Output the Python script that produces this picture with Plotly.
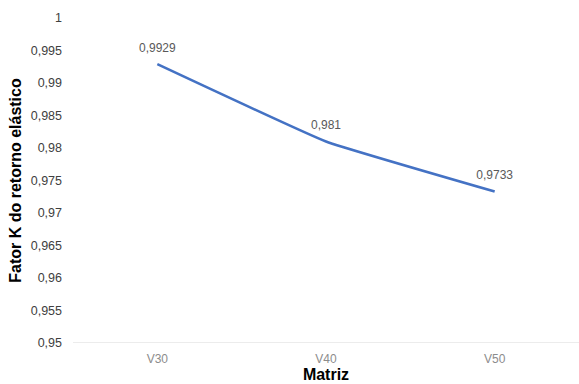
import plotly.graph_objects as go

categories = ["V30", "V40", "V50"]
values = [0.9929, 0.981, 0.9733]
value_labels = ["0,9929", "0,981", "0,9733"]
y_tick_vals = [0.95, 0.955, 0.96, 0.965, 0.97, 0.975, 0.98, 0.985, 0.99, 0.995, 1.0]
y_tick_text = ["0,95", "0,955", "0,96", "0,965", "0,97", "0,975", "0,98", "0,985", "0,99", "0,995", "1"]

fig = go.Figure()
fig.add_trace(go.Scatter(
    x=categories, y=values, mode="lines+markers+text",
    text=value_labels, textposition="top center",
    textfont=dict(family="Liberation Sans, Arial", size=12, color="#595959"),
    line=dict(color="#4472C4", width=2.6, shape="spline", smoothing=0.3),
    marker=dict(size=13, opacity=0),
    cliponaxis=False, showlegend=False, hoverinfo="skip",
))

fig.update_layout(
    width=579, height=384,
    margin=dict(l=73, r=0, t=18, b=41),
    paper_bgcolor="white", plot_bgcolor="white",
    font=dict(family="Liberation Sans, Arial", size=12, color="#595959"),
    xaxis=dict(
        type="category", range=[-0.5, 2.5],
        showgrid=False, showline=False, zeroline=False,
        ticks="", ticklabelstandoff=7, tickfont=dict(size=12, color="#8C8C8C"),
        title=dict(text="<b>Matriz</b>", font=dict(size=16, color="#000000"), standoff=2),
    ),
    yaxis=dict(
        range=[0.95, 1.0], tickvals=y_tick_vals, ticktext=y_tick_text,
        showgrid=False, showline=False, zeroline=False,
        ticks="", ticklabelstandoff=10,
        tickfont=dict(size=12.5, color="#404040"),
        title=dict(text="<b>Fator K do retorno elástico</b>", font=dict(size=16, color="#000000"), standoff=5),
    ),
    shapes=[dict(type="line", xref="paper", yref="y", x0=0, x1=1, y0=0.95, y1=0.95,
                 line=dict(color="#D9D9D9", width=1))],
)

fig.write_html("out.html")
